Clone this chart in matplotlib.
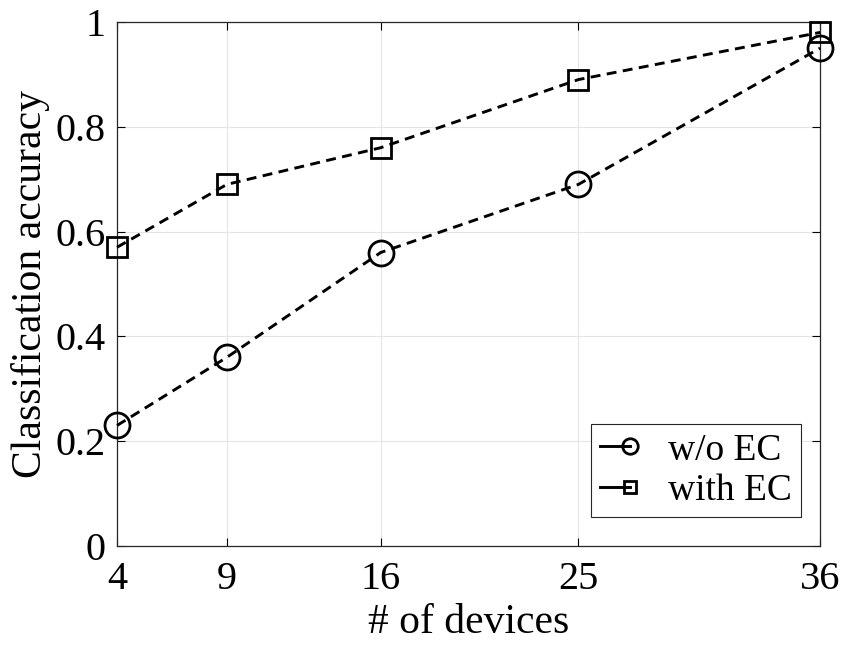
import numpy as np
import matplotlib
matplotlib.use('Agg')
import matplotlib.pyplot as plt
from matplotlib.lines import Line2D
from matplotlib.legend_handler import HandlerLine2D

devices = [4, 9, 16, 25, 36]
acc_wo_ec = [0.23, 0.36, 0.56, 0.69, 0.95]
acc_with_ec = [0.57, 0.69, 0.76, 0.89, 0.98]
yticks = [0, 0.2, 0.4, 0.6, 0.8, 1]
ytick_labels = ['0', '0.2', '0.4', '0.6', '0.8', '1']

plt.rcParams['font.family'] = ['Liberation Serif', 'DejaVu Serif']


# matlab style legend: short solid line with the marker at its right end
class RightMarker(HandlerLine2D):
    def create_artists(self, legend, orig_handle, xdescent, ydescent,
                       width, height, fontsize, trans):
        y = (height - ydescent) / 2
        line = Line2D([-xdescent, -xdescent + width], [y, y], markevery=[1])
        self.update_prop(line, orig_handle, legend)
        line.set_markersize(line.get_markersize() * legend.markerscale)
        line.set_linestyle('-')
        line.set_transform(trans)
        return [line]


fig = plt.figure(figsize=(8.42, 6.45), dpi=100)
ax = fig.add_axes([0.139, 0.1535, 0.835, 0.8125])

ax.plot(devices, acc_wo_ec, 'k--o', lw=2.1, ms=18, mew=2.0, mfc='none',
        dashes=(3.4, 2.2), label='w/o EC', clip_on=False, zorder=3)
ax.plot(devices, acc_with_ec, 'k--s', lw=2.1, ms=15, mew=2.0, mfc='none',
        dashes=(3.4, 2.2), label='with EC', clip_on=False, zorder=3)

ax.set_xlim(4, 36)
ax.set_ylim(0, 1)
ax.set_xticks(devices)
ax.set_yticks(yticks)
ax.set_yticklabels(ytick_labels)
ax.grid(True, color='#e5e5e5', lw=0.8)
ax.set_axisbelow(True)
ax.tick_params(labelsize=29, direction='in', length=6, width=0.8,
               top=True, right=True)
ax.tick_params(axis='x', pad=11)
ax.tick_params(axis='y', pad=8)
for s in ax.spines.values():
    s.set_linewidth(0.9)
    s.set_color('#262626')

ax.set_xlabel('# of devices', fontsize=30, labelpad=4)
ax.set_ylabel('Classification accuracy', fontsize=30, labelpad=4)

leg = ax.legend(loc='lower right', bbox_to_anchor=(0.9513, 0.1984),
                bbox_transform=fig.transFigure, borderaxespad=0,
                fontsize=27, handlelength=0.8, handletextpad=1.0,
                fancybox=False, edgecolor='#262626', framealpha=1,
                borderpad=0.25, labelspacing=0.15, markerscale=0.62,
                handler_map={Line2D: RightMarker()})
leg.get_frame().set_linewidth(0.8)

plt.savefig('out.png', dpi=100)
